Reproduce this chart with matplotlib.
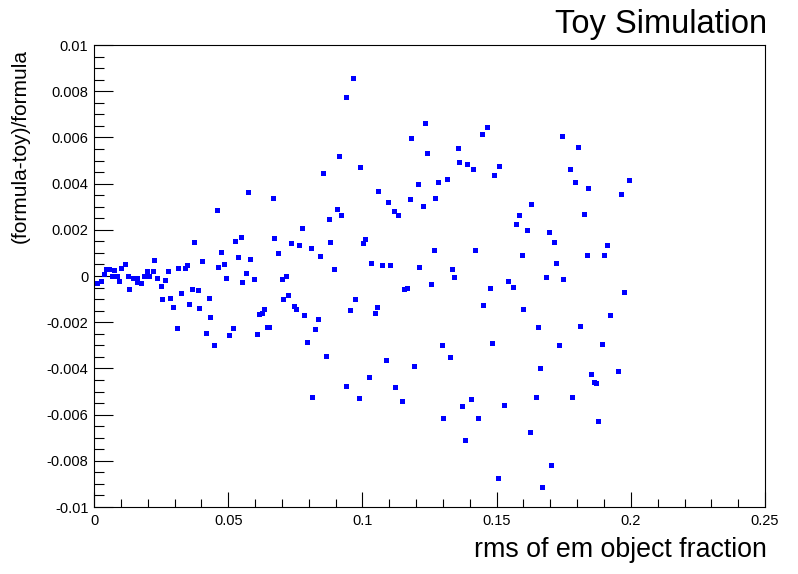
import matplotlib
matplotlib.use("Agg")
import matplotlib.pyplot as plt
from matplotlib.ticker import MultipleLocator, FuncFormatter

plt.rcParams['font.family'] = ['Liberation Sans', 'DejaVu Sans']

# values
rms_frac = [
    0.00123, 0.00250, 0.00361, 0.00447, 0.00559, 0.00659, 0.00745, 0.00846, 0.00931, 0.01006,
    0.01144, 0.01256, 0.01304, 0.01453, 0.01591, 0.01602, 0.01740, 0.01863, 0.01963, 0.02049,
    0.02198, 0.02224, 0.02347, 0.02496, 0.02534, 0.02645, 0.02746, 0.02832, 0.02943, 0.03092,
    0.03130, 0.03241, 0.03390, 0.03454, 0.03540, 0.03651, 0.03726, 0.03875, 0.03912, 0.04024,
    0.04173, 0.04285, 0.04322, 0.04471, 0.04583, 0.04620, 0.04732, 0.04844, 0.04918, 0.05030,
    0.05179, 0.05253, 0.05365, 0.05477, 0.05514, 0.05663, 0.05738, 0.05812, 0.05961, 0.06073,
    0.06136, 0.06259, 0.06334, 0.06446, 0.06520, 0.06669, 0.06706, 0.06855, 0.07004, 0.07042,
    0.07154, 0.07228, 0.07340, 0.07452, 0.07526, 0.07638, 0.07750, 0.07824, 0.07936, 0.08085,
    0.08122, 0.08234, 0.08346, 0.08420, 0.08532, 0.08644, 0.08756, 0.08793, 0.08942, 0.09054,
    0.09128, 0.09203, 0.09389, 0.09389, 0.09538, 0.09650, 0.09724, 0.09862, 0.09899, 0.10022,
    0.10097, 0.10246, 0.10320, 0.10469, 0.10544, 0.10581, 0.10730, 0.10879, 0.10954, 0.11028,
    0.11177, 0.11215, 0.11326, 0.11475, 0.11550, 0.11662, 0.11773, 0.11811, 0.11923, 0.12072,
    0.12109, 0.12258, 0.12332, 0.12407, 0.12556, 0.12668, 0.12705, 0.12817, 0.12966, 0.13003,
    0.13152, 0.13264, 0.13338, 0.13413, 0.13562, 0.13588, 0.13711, 0.13823, 0.13897, 0.14046,
    0.14121, 0.14195, 0.14307, 0.14456, 0.14493, 0.14642, 0.14754, 0.14829, 0.14903, 0.15052,
    0.15089, 0.15276, 0.15425, 0.15611, 0.15723, 0.15835, 0.15946, 0.15984, 0.16133, 0.16244,
    0.16282, 0.16468, 0.16542, 0.16617, 0.16692, 0.16840, 0.16952, 0.17027, 0.17139, 0.17213,
    0.17313, 0.17437, 0.17474, 0.17735, 0.17809, 0.17921, 0.18033, 0.18107, 0.18256, 0.18368,
    0.18405, 0.18517, 0.18629, 0.18703, 0.18778, 0.18927, 0.19001, 0.19113, 0.19225, 0.19523,
    0.19635, 0.19747, 0.19933,
]
rel_diff = [
    -0.00029, -0.00020, 0.00010, 0.00030, 0.00030, 0.00001, 0.00026, 0.00001, -0.00020, 0.00036,
    0.00053, 0.00001, -0.00055, -0.00009, -0.00009, -0.00025, -0.00029, 0.00001, 0.00023, 0.00001,
    0.00023, 0.00071, -0.00007, -0.00042, -0.00098, -0.00016, 0.00023, -0.00094, -0.00133, -0.00224,
    0.00036, -0.00072, 0.00036, 0.00049, -0.00120, -0.00055, 0.00148, -0.00059, -0.00137, 0.00065,
    -0.00247, -0.00095, -0.00177, -0.00299, 0.00286, 0.00039, 0.00104, 0.00052, -0.00009, -0.00255,
    -0.00225, 0.00152, 0.00082, 0.00169, -0.00026, 0.00013, 0.00364, 0.00074, -0.00013, -0.00251,
    -0.00165, -0.00160, -0.00143, -0.00221, -0.00221, 0.00338, 0.00165, 0.00100, -0.00013, -0.00100,
    0.00000, -0.00082, 0.00143, -0.00130, -0.00143, 0.00134, 0.00208, -0.00169, -0.00286, 0.00121,
    -0.00524, -0.00229, -0.00186, 0.00087, 0.00446, -0.00346, 0.00247, 0.00147, 0.00030, 0.00290,
    0.00520, 0.00264, -0.00476, 0.00775, -0.00147, 0.00857, -0.00100, -0.00528, 0.00473, 0.00143,
    0.00160, -0.00437, 0.00056, -0.00160, -0.00134, 0.00368, 0.00048, -0.00364, 0.00320, 0.00048,
    0.00281, -0.00480, 0.00264, -0.00541, -0.00056, -0.00052, 0.00333, 0.00597, -0.00390, 0.00398,
    0.00039, 0.00303, 0.00662, 0.00532, -0.00035, 0.00113, 0.00338, 0.00407, -0.00299, -0.00615,
    0.00420, -0.00351, 0.00030, -0.00004, 0.00554, 0.00494, -0.00563, -0.00710, 0.00485, -0.00532,
    0.00463, 0.00113, -0.00615, 0.00615, -0.00126, 0.00645, -0.00052, -0.00290, 0.00437, -0.00874,
    0.00476, -0.00558, -0.00022, -0.00048, 0.00225, 0.00264, 0.00091, -0.00143, 0.00199, -0.00675,
    0.00312, -0.00524, -0.00221, -0.00398, -0.00913, -0.00004, 0.00190, -0.00818, 0.00147, 0.00056,
    -0.00299, 0.00606, -0.00013, 0.00463, -0.00524, 0.00407, 0.00558, -0.00216, 0.00268, 0.00091,
    0.00381, -0.00424, -0.00459, -0.00463, -0.00628, -0.00294, 0.00091, 0.00134, -0.00169, -0.00411,
    0.00355, -0.00069, 0.00416,
]

title = "Toy Simulation"
xlabel = "rms of em object fraction"
ylabel = "(formula-toy)/formula"

fig = plt.figure(figsize=(7.98, 5.74), dpi=100)
ax = fig.add_axes([0.1178, 0.1167, 0.8409, 0.8049])

ax.plot(rms_frac, rel_diff, 's', color='#0000ff', markersize=3.6, markeredgewidth=0)

ax.set_xlim(0, 0.25)
ax.set_ylim(-0.01, 0.01)

ax.xaxis.set_major_locator(MultipleLocator(0.05))
ax.xaxis.set_minor_locator(MultipleLocator(0.01))
ax.yaxis.set_major_locator(MultipleLocator(0.002))
ax.yaxis.set_minor_locator(MultipleLocator(0.0005))
fmt = FuncFormatter(lambda v, p: '%g' % round(v, 6))
ax.xaxis.set_major_formatter(fmt)
ax.yaxis.set_major_formatter(fmt)

ax.tick_params(axis='both', which='both', direction='in', top=False, right=False,
               width=0.8, labelsize=10.5, color='black')
ax.tick_params(axis='x', which='major', length=11, pad=5)
ax.tick_params(axis='x', which='minor', length=6)
ax.tick_params(axis='y', which='major', length=13.5, pad=4)
ax.tick_params(axis='y', which='minor', length=7)
for s in ax.spines.values():
    s.set_linewidth(0.8)

fig.text(0.961, 1 - 9 / 574, title, ha='right', va='top', fontsize=23.5)
fig.text(0.961, 0.042, xlabel, ha='right', va='center', fontsize=19.3)
fig.text(20 / 798, 1 - 49 / 574, ylabel, rotation=90, ha='center', va='top', fontsize=15)

fig.savefig('out.png', dpi=100)
